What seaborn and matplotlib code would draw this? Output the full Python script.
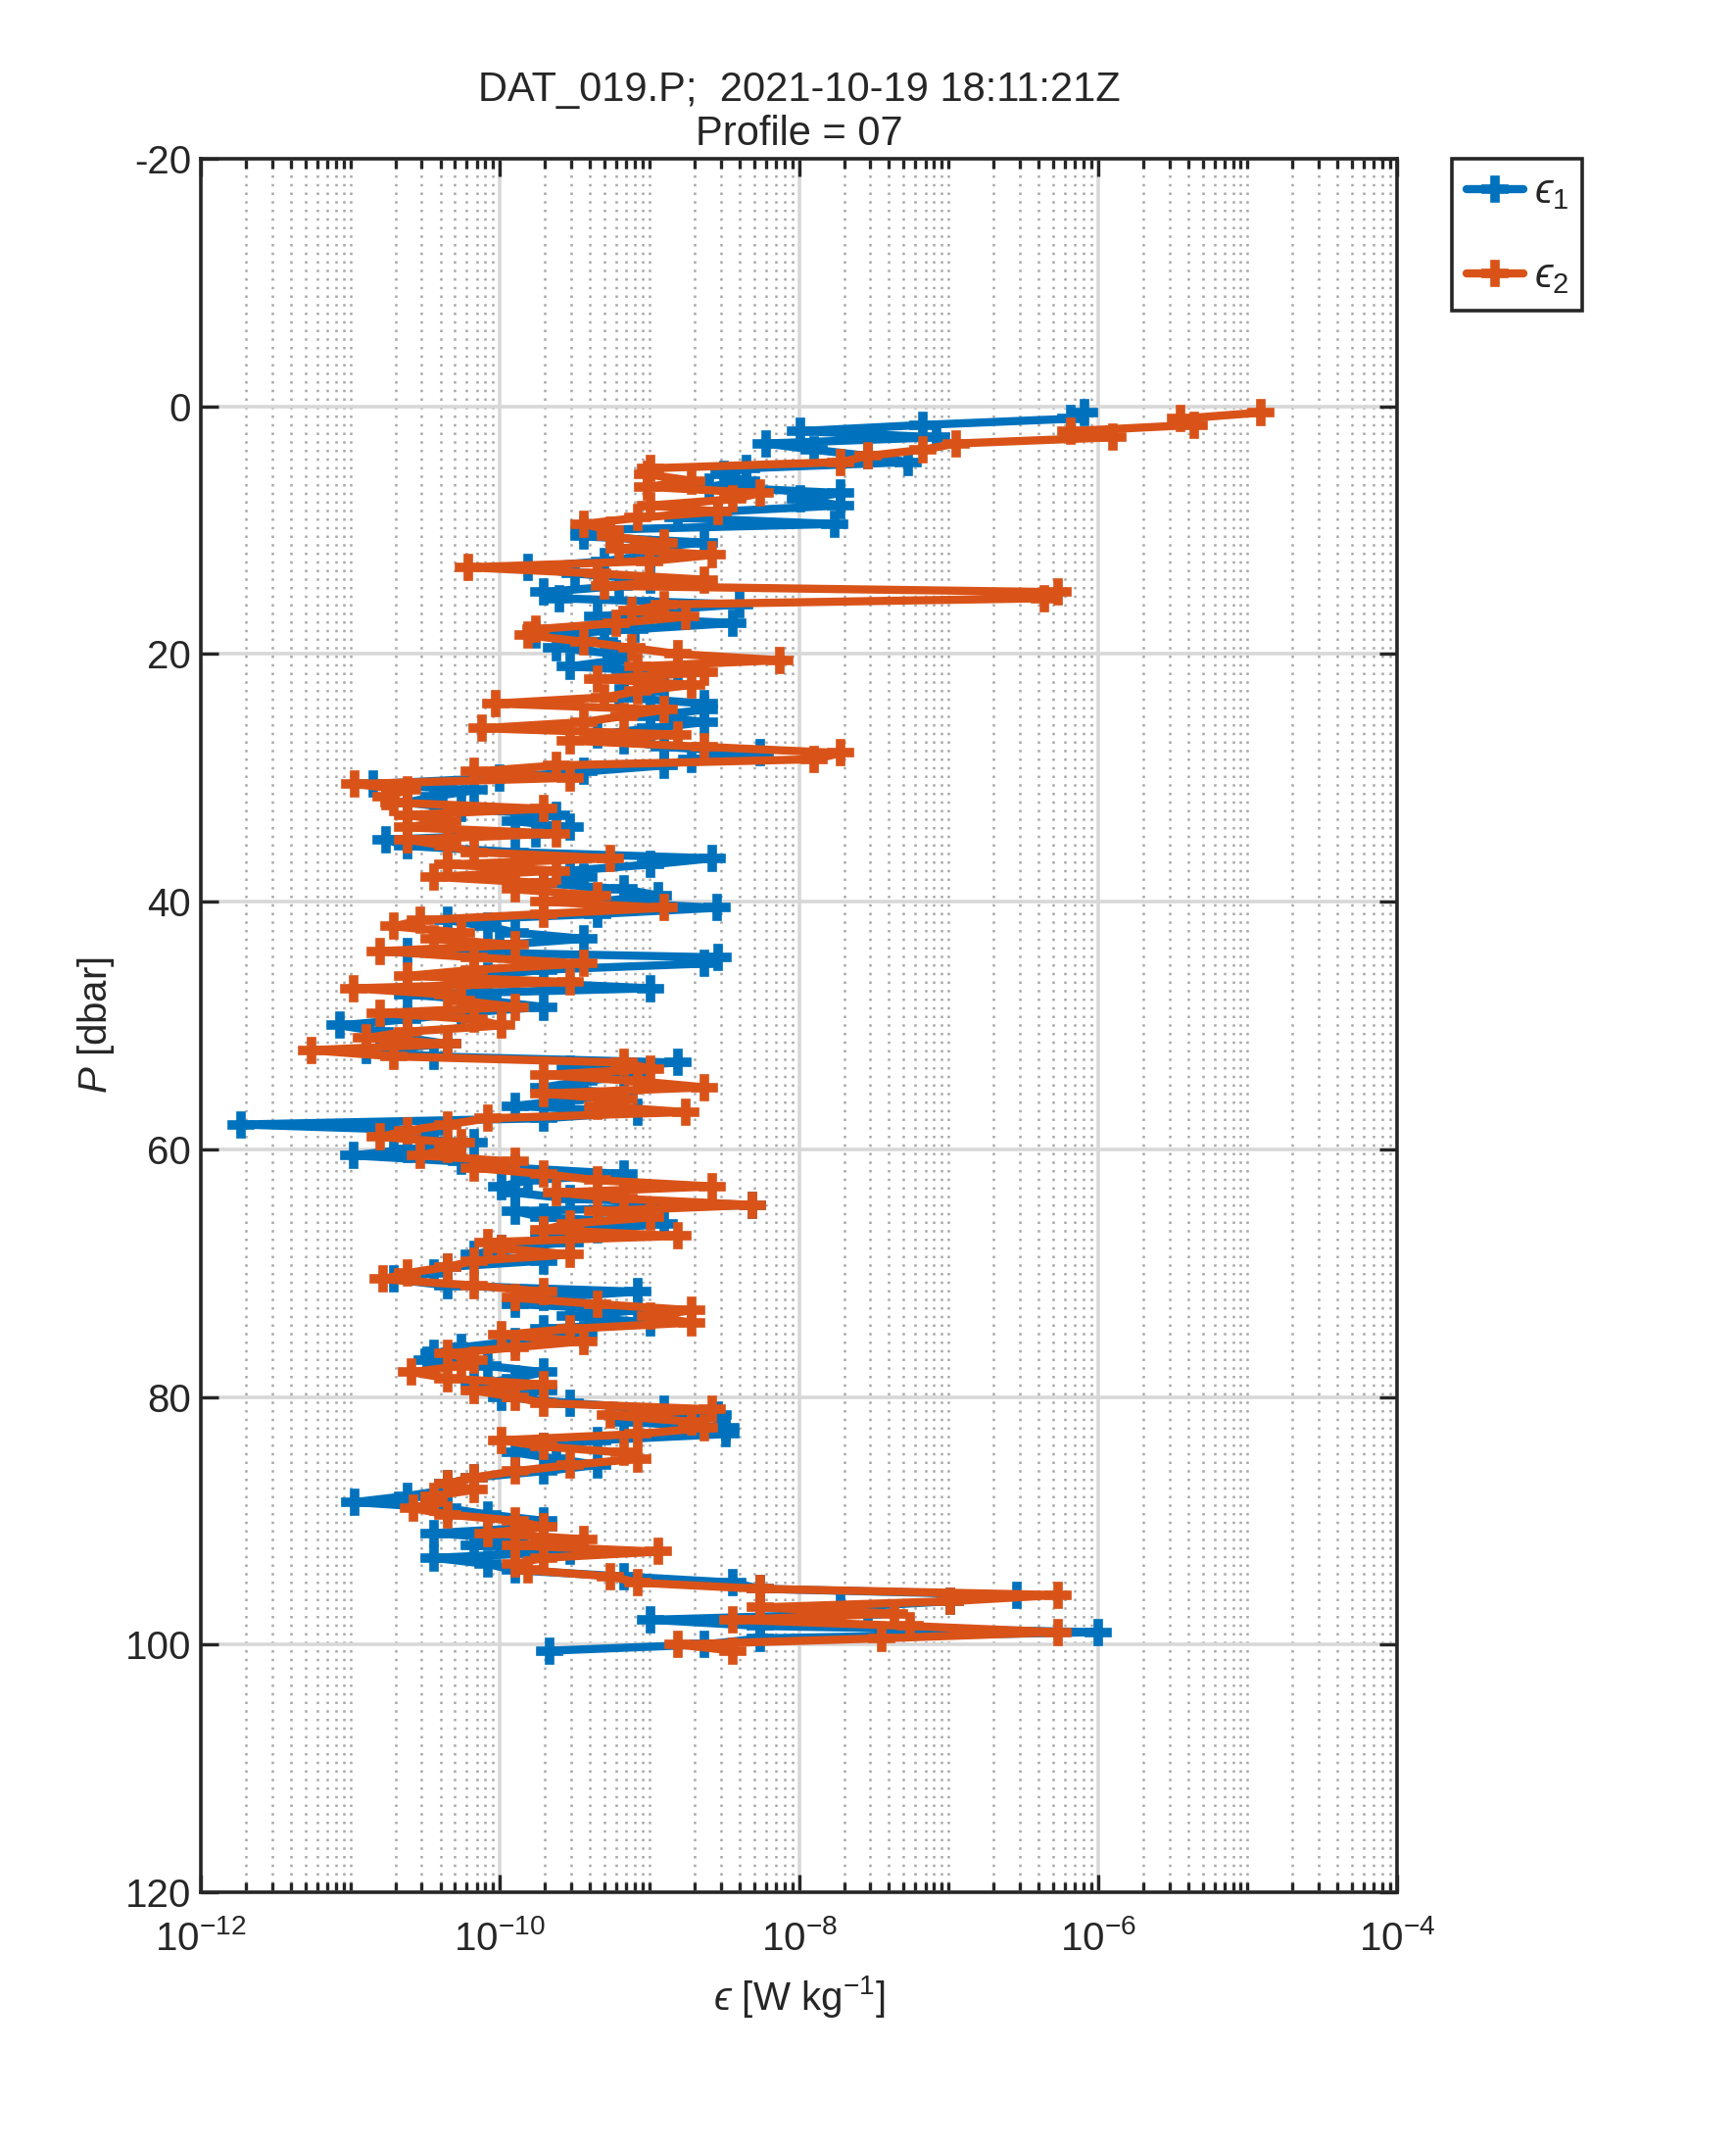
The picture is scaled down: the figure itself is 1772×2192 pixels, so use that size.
import numpy as np
import pandas as pd
import seaborn as sns
import matplotlib.pyplot as plt
from matplotlib.ticker import FixedLocator, NullLocator, NullFormatter, LogFormatterSciNotation

sns.set_style('ticks')
plt.rcParams['font.family'] = ['Liberation Sans', 'DejaVu Sans']
plt.rcParams['mathtext.fontset'] = 'custom'
plt.rcParams['mathtext.rm'] = 'Liberation Sans'
plt.rcParams['mathtext.it'] = 'Liberation Sans:italic'
plt.rcParams['axes.unicode_minus'] = False

# Pressure bins [dbar]
pressure = [
    0.5, 1.0, 1.5, 2.0, 2.5, 3.0, 3.5, 4.0, 4.5, 5.0,
    5.5, 6.0, 6.5, 7.0, 7.5, 8.0, 8.5, 9.0, 9.5, 10.0,
    10.5, 11.0, 11.5, 12.0, 12.5, 13.0, 13.5, 14.0, 14.5, 15.0,
    15.5, 16.0, 16.5, 17.0, 17.5, 18.0, 18.5, 19.0, 19.5, 20.0,
    20.5, 21.0, 21.5, 22.0, 22.5, 23.0, 23.5, 24.0, 24.5, 25.0,
    25.5, 26.0, 26.5, 27.0, 27.5, 28.0, 28.5, 29.0, 29.5, 30.0,
    30.5, 31.0, 31.5, 32.0, 32.5, 33.0, 33.5, 34.0, 34.5, 35.0,
    35.5, 36.0, 36.5, 37.0, 37.5, 38.0, 38.5, 39.0, 39.5, 40.0,
    40.5, 41.0, 41.5, 42.0, 42.5, 43.0, 43.5, 44.0, 44.5, 45.0,
    45.5, 46.0, 46.5, 47.0, 47.5, 48.0, 48.5, 49.0, 49.5, 50.0,
    50.5, 51.0, 51.5, 52.0, 52.5, 53.0, 53.5, 54.0, 54.5, 55.0,
    55.5, 56.0, 56.5, 57.0, 57.5, 58.0, 58.5, 59.0, 59.5, 60.0,
    60.5, 61.0, 61.5, 62.0, 62.5, 63.0, 63.5, 64.0, 64.5, 65.0,
    65.5, 66.0, 66.5, 67.0, 67.5, 68.0, 68.5, 69.0, 69.5, 70.0,
    70.5, 71.0, 71.5, 72.0, 72.5, 73.0, 73.5, 74.0, 74.5, 75.0,
    75.5, 76.0, 76.5, 77.0, 77.5, 78.0, 78.5, 79.0, 79.5, 80.0,
    80.5, 81.0, 81.5, 82.0, 82.5, 83.0, 83.5, 84.0, 84.5, 85.0,
    85.5, 86.0, 86.5, 87.0, 87.5, 88.0, 88.5, 89.0, 89.5, 90.0,
    90.5, 91.0, 91.5, 92.0, 92.5, 93.0, 93.5, 94.0, 94.5, 95.0,
    95.5, 96.0, 96.5, 97.0, 97.5, 98.0, 98.5, 99.0, 99.5, 100.0, 100.5,
]

# log10 of epsilon, shear probe 1
eps1_log = [
    -6.09, -6.18, -7.17, -7.99, -7.08, -8.22, -7.90, -7.54, -7.27, -8.35,
    -8.50, -8.35, -8.60, -7.72, -7.99, -7.72, -8.54, -8.81, -7.76, -9.44,
    -9.44, -8.63, -9.10, -8.99, -9.30, -9.81, -9.50, -8.99, -9.20, -9.71,
    -9.60, -8.40, -9.00, -9.35, -8.44, -9.10, -9.76, -9.30, -9.62, -9.22,
    -9.22, -9.53, -8.81, -9.17, -8.90, -8.99, -9.20, -8.63, -8.63, -8.99,
    -8.63, -8.99, -9.35, -9.17, -8.90, -8.26, -8.72, -8.90, -9.44, -10.00,
    -10.85, -10.17, -10.44, -10.62, -10.26, -9.62, -9.90, -9.53, -9.76, -10.76,
    -10.62, -9.90, -8.58, -8.99, -9.53, -9.44, -9.71, -9.17, -8.94, -9.35,
    -8.55, -9.35, -10.35, -10.08, -9.90, -9.44, -10.00, -10.62, -8.54, -8.63,
    -9.71, -10.08, -9.90, -8.99, -10.62, -10.08, -9.71, -10.26, -10.62, -11.07,
    -10.80, -10.62, -10.35, -10.89, -10.44, -8.81, -9.53, -9.08, -9.44, -9.71,
    -9.17, -9.53, -9.90, -9.08, -9.71, -11.73, -10.44, -10.71, -10.17, -10.62,
    -10.98, -10.26, -9.90, -9.17, -9.81, -9.99, -9.90, -9.53, -8.31, -9.90,
    -9.71, -8.90, -9.35, -9.71, -9.53, -9.99, -10.17, -9.71, -10.35, -10.44,
    -10.71, -10.35, -9.08, -9.71, -9.90, -9.08, -9.53, -8.99, -9.71, -9.44,
    -9.90, -10.26, -10.44, -10.49, -10.08, -9.71, -9.90, -10.17, -9.71, -9.99,
    -9.53, -8.90, -8.54, -9.17, -8.49, -8.49, -9.35, -9.71, -9.90, -9.62,
    -9.35, -9.71, -10.17, -10.35, -10.35, -10.62, -10.97, -10.35, -10.08, -9.71,
    -9.71, -10.44, -9.90, -10.17, -9.53, -10.44, -10.08, -9.90, -9.17, -8.44,
    -8.26, -6.54, -6.99, -7.72, -7.54, -8.99, -8.26, -6.00, -8.26, -8.63, -9.67,
]

# log10 of epsilon, shear probe 2
eps2_log = [
    -4.91, -5.45, -5.36, -6.18, -5.90, -6.95, -7.17, -7.54, -7.72, -8.99,
    -9.01, -8.72, -9.01, -8.26, -8.44, -8.99, -8.54, -9.08, -9.44, -9.26,
    -9.26, -8.90, -9.20, -8.58, -9.00, -10.21, -9.35, -8.63, -9.30, -6.27,
    -6.36, -8.90, -9.12, -8.76, -9.22, -9.76, -9.81, -9.44, -9.12, -8.81,
    -8.13, -9.08, -8.63, -9.35, -8.72, -9.08, -9.30, -10.03, -8.90, -9.17,
    -9.44, -10.12, -8.81, -9.53, -8.63, -7.72, -7.90, -9.62, -10.17, -9.53,
    -10.97, -10.62, -10.76, -10.71, -9.71, -10.62, -10.35, -10.62, -9.62, -10.62,
    -10.35, -10.17, -9.26, -10.35, -9.62, -10.44, -9.71, -9.90, -9.35, -9.71,
    -8.90, -9.71, -10.53, -10.71, -10.26, -10.44, -9.90, -10.80, -10.17, -9.44,
    -10.17, -10.62, -9.53, -10.98, -10.35, -10.26, -9.90, -10.80, -10.17, -9.99,
    -10.62, -10.89, -10.35, -11.26, -10.71, -9.17, -8.99, -9.71, -9.08, -8.63,
    -9.71, -9.17, -9.35, -8.76, -10.08, -10.35, -10.62, -10.80, -10.26, -10.35,
    -10.53, -9.90, -10.17, -9.71, -9.35, -8.58, -9.62, -9.17, -8.31, -9.35,
    -8.99, -9.53, -9.71, -8.81, -10.08, -9.99, -9.53, -10.17, -10.35, -10.62,
    -10.78, -10.17, -9.71, -9.90, -9.35, -8.72, -8.99, -8.72, -9.53, -9.99,
    -9.44, -9.90, -10.35, -10.17, -10.26, -10.59, -10.35, -9.71, -10.17, -9.90,
    -9.71, -8.58, -9.26, -8.72, -8.63, -9.08, -9.99, -9.71, -9.17, -9.08,
    -9.53, -9.90, -10.17, -10.35, -10.17, -10.44, -10.44, -10.58, -10.35, -9.90,
    -9.71, -10.08, -9.44, -9.90, -8.94, -9.71, -9.90, -9.81, -9.26, -9.08,
    -8.26, -6.27, -6.99, -8.26, -7.36, -8.44, -7.26, -6.27, -7.45, -8.81, -8.44,
]

labels = ['$\u03f5_1$', '$\u03f5_2$']
colors = ['#0072BD', '#D95319']

df = pd.concat([
    pd.DataFrame({'P': pressure, 'eps': 10.0 ** np.array(eps1_log), 'probe': labels[0]}),
    pd.DataFrame({'P': pressure, 'eps': 10.0 ** np.array(eps2_log), 'probe': labels[1]}),
], ignore_index=True)

fig = plt.figure(figsize=(8.86, 10.96), dpi=200)
ax = fig.add_axes([0.1157, 0.1191, 0.6891, 0.8070])
ax.set_xscale('log')

sns.lineplot(data=df, x='eps', y='P', hue='probe', palette=colors,
             estimator=None, sort=False, orient='y',
             marker='P', legend=False, ax=ax)

# heavy MATLAB-like lines and bold plus markers
for ln in ax.get_lines():
    ln.set_linewidth(3.0)
    ln.set_marker('P')
    ln.set_markersize(9.5)
    ln.set_markeredgewidth(0.6)
    ln.set_markeredgecolor(ln.get_color())
    ln.set_markerfacecolor(ln.get_color())

ax.set_xlim(1e-12, 1e-4)
ax.set_ylim(120, -20)
ax.set_yticks(np.arange(-20, 121, 20))
ax.yaxis.set_minor_locator(NullLocator())
ax.xaxis.set_major_locator(FixedLocator([1e-12, 1e-10, 1e-8, 1e-6, 1e-4]))
ax.xaxis.set_major_formatter(LogFormatterSciNotation())
minor = [m * 10.0 ** k for k in range(-12, -4) for m in range(1, 10)
         if not (m == 1 and k % 2 == 0)]
ax.xaxis.set_minor_locator(FixedLocator(minor))
ax.xaxis.set_minor_formatter(NullFormatter())

ax.grid(which='major', color='#d8d8d8', linewidth=1.3, linestyle='-')
ax.grid(which='minor', axis='x', color='#a8a8a8', linewidth=0.9, linestyle=(0, (1, 2.5)))
ax.set_axisbelow(True)

ax.tick_params(which='both', direction='in', top=True, right=True,
               labelsize=14.5, colors='#262626', width=1.2)
ax.tick_params(which='major', length=6.5)
ax.tick_params(which='minor', length=3.5)
ax.tick_params(axis='x', which='major', pad=10)
for s in ax.spines.values():
    s.set_linewidth(1.3)
    s.set_color('#262626')

ax.set_xlabel('$\u03f5$ [W kg$^{-1}$]', fontsize=14.5, color='#262626', labelpad=6)
ax.set_ylabel(r'$P$ [dbar]', fontsize=14.5, color='#262626', labelpad=3)
ax.set_title('DAT_019.P;  2021-10-19 18:11:21Z\nProfile = 07', fontsize=15,
             pad=5, linespacing=1.15)

handles = ax.get_lines()[:2]
leg = ax.legend(handles, labels, loc='upper left', bbox_to_anchor=(1.046, 1.0),
                borderaxespad=0, fancybox=False, framealpha=1, edgecolor='#262626',
                fontsize=15, handlelength=1.4, handletextpad=0.25,
                borderpad=0.35, labelspacing=1.1)
leg.get_frame().set_linewidth(1.3)

fig.savefig('out.png', dpi=200)
